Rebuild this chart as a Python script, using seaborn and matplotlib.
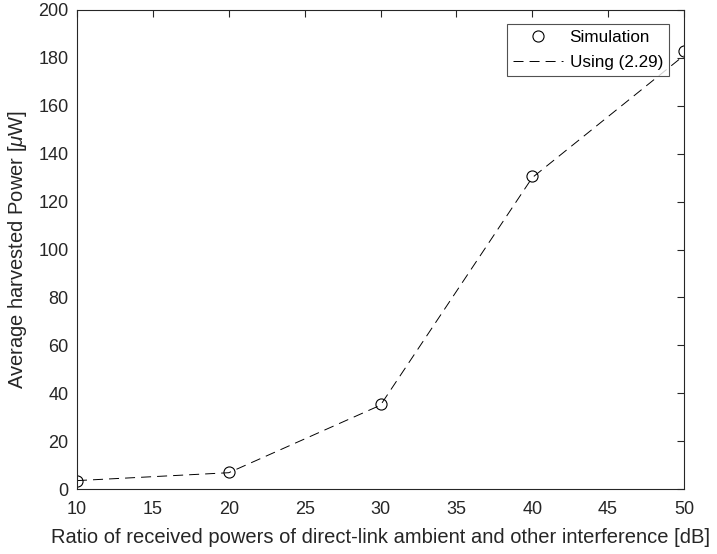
import matplotlib
matplotlib.use("Agg")
import matplotlib.pyplot as plt
import seaborn as sns
import pandas as pd

ratio_db = [10, 20, 30, 40, 50]
sim_power = [3.5, 7.0, 35.5, 130.5, 183.0]
analytic_power = [3.5, 6.8, 35.0, 130.0, 181.0]
x_ticks = [10, 15, 20, 25, 30, 35, 40, 45, 50]
y_ticks = list(range(0, 201, 20))

sns.set_theme(style="white")
plt.rcParams['font.family'] = ['Liberation Sans', 'DejaVu Sans']
plt.rcParams['mathtext.fontset'] = 'custom'
plt.rcParams['mathtext.it'] = 'Liberation Sans:italic'
plt.rcParams['mathtext.rm'] = 'Liberation Sans'

dark = '#262626'
fig = plt.figure(figsize=(7.17, 5.54), dpi=100)
ax = fig.add_axes([77/717, 1-489/554, (684-77)/717, (489-10)/554])

df = pd.DataFrame({'x': ratio_db, 'sim': sim_power, 'ana': analytic_power})
sns.lineplot(data=df, x='x', y='sim', ax=ax, marker='o', linestyle='none',
             markersize=8, markerfacecolor='none', markeredgecolor='black',
             markeredgewidth=0.8, color='black', label='Simulation')
sns.lineplot(data=df, x='x', y='ana', ax=ax, color='black', linewidth=0.7,
             label='Using (2.29)')
ax.lines[-1].set_dashes((10.3, 6.2))

ax.set_xlim(10, 50)
ax.set_ylim(0, 200)
ax.set_xticks(x_ticks)
ax.set_yticks(y_ticks)
ax.tick_params(direction='in', top=True, right=True, length=5, width=0.8,
               colors=dark, labelsize=13, pad=6)
ax.tick_params(axis='x', pad=9)
for s in ax.spines.values():
    s.set_color(dark)
    s.set_linewidth(0.8)
ax.set_xlabel('Ratio of received powers of direct-link ambient and other interference [dB]',
              fontsize=14.5, color=dark, labelpad=7)
ax.set_ylabel('Average harvested Power [$\\mu$W]', fontsize=14.5, color=dark, labelpad=7)

leg = ax.legend(loc='upper right', bbox_to_anchor=((669-77)/(684-77), 1-(24-10)/479),
                borderaxespad=0, fontsize=12.3, frameon=True, fancybox=False,
                edgecolor=dark, handlelength=2.9, handletextpad=0.4,
                borderpad=0.35, labelspacing=0.6)
leg.get_frame().set_linewidth(0.8)
for t in leg.get_texts():
    t.set_color('black')

fig.savefig('out.png', dpi=100)
